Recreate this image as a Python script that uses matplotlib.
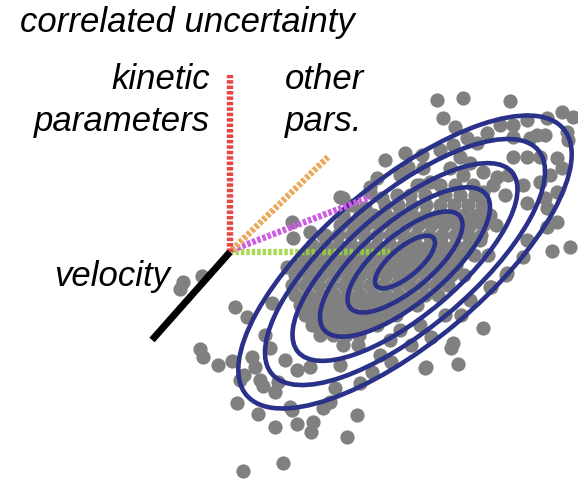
import matplotlib
matplotlib.use("Agg")
import matplotlib.pyplot as plt
from matplotlib.patches import Ellipse

# scattered samples (pixel positions)
outer_x = [183, 180, 202, 235, 247, 200, 203, 218, 232, 252, 255, 244, 240, 260, 263, 278, 275, 237, 258, 275,
           243, 283, 272, 265, 270, 285, 290, 297, 310, 340, 372, 335, 360, 425, 292, 323, 330, 297, 313, 311,
           357, 347, 483, 451, 453, 458, 426, 491, 506, 461, 431, 411, 390, 391, 380, 552, 570, 527, 523, 507,
           490, 547,
           437, 463, 510, 443, 455, 562, 573, 547, 500, 513, 527, 537, 545, 530, 567, 568, 487, 513, 467, 477,
           440, 453, 513, 527, 540, 557, 562, 550, 540, 557, 545, 523, 508, 497, 483, 470, 460, 450, 493, 505,
           483, 527, 547, 557, 463, 473, 385, 405, 422, 408, 377, 343, 352, 370, 382, 397, 400, 417, 423, 430,
           292, 343, 365, 340, 370, 293, 310, 323, 287,
           480, 488, 470, 445, 420, 400]
outer_y = [282, 289, 276, 307, 317, 349, 357, 365, 361, 357, 367, 375, 380, 380, 386, 382, 392, 403, 414, 427,
           471, 463, 303, 335, 348, 360, 407, 370, 367, 365, 372, 388, 383, 368, 410, 408, 402, 424, 422, 432,
           415, 437, 328, 348, 343, 364, 367, 287, 275, 315, 337, 345, 340, 362, 355, 251, 247, 240, 257, 273,
           287, 227,
           100, 98, 101, 118, 127, 112, 117, 118, 125, 125, 120, 135, 135, 138, 132, 140, 133, 137, 138, 143,
           150, 145, 157, 157, 157, 158, 168, 175, 182, 192, 198, 185, 175, 177, 172, 163, 157, 168, 185, 195,
           192, 203, 208, 222, 175, 185, 160, 153, 155, 167, 178, 198, 205, 192, 198, 195, 175, 185, 168, 182,
           222, 215, 208, 197, 187, 238, 232, 235, 267,
           240, 255, 300, 315, 325, 330]

# dense core, row by row
core_rows = {
    185: [420, 440, 455],
    195: [410, 425, 445, 460, 475],
    205: [385, 398, 412, 426, 440, 454, 468, 482],
    215: [360, 373, 386, 399, 412, 425, 438, 451, 464, 477, 490],
    225: [340, 353, 366, 379, 392, 405, 418, 431, 444, 457, 470, 483, 496],
    235: [325, 338, 351, 364, 377, 390, 403, 416, 429, 442, 455, 468, 481],
    245: [312, 325, 338, 351, 364, 377, 390, 403, 416, 429, 442, 455, 468],
    255: [305, 318, 331, 344, 357, 370, 383, 396, 409, 422, 435, 448, 461, 474],
    265: [300, 313, 326, 339, 352, 365, 378, 391, 404, 417, 430, 443, 456],
    275: [295, 308, 321, 334, 347, 360, 373, 386, 399, 412, 425, 438, 451, 464],
    285: [292, 305, 318, 331, 344, 357, 370, 383, 396, 409, 422, 435, 448],
    295: [295, 308, 321, 334, 347, 360, 373, 386, 399, 412, 425, 438],
    305: [300, 313, 326, 339, 352, 365, 378, 391, 404, 417],
    315: [305, 318, 331, 344, 357, 370, 383, 396],
    325: [312, 325, 338, 351, 364, 377],
    335: [320, 333, 346, 359],
    345: [343, 358],
}

# contour ellipses: centre, semi axes, tilt, relative sizes
ell_center = (405, 262)
ell_a = 207
ell_b = 80
ell_angle = -40
ell_scales = [0.18, 0.345, 0.51, 0.675, 0.84, 1.0]

origin = (230, 252)

xs = list(outer_x)
ys = list(outer_y)
for y, row in core_rows.items():
    xs += row
    ys += [y] * len(row)

fig = plt.figure(figsize=(5.78, 4.8), dpi=100)
ax = fig.add_axes([0, 0, 1, 1])
ax.set_xlim(0, 578)
ax.set_ylim(480, 0)
ax.axis("off")

ax.scatter(xs, ys, s=105, c="#808080", linewidths=0, zorder=1)

for s in ell_scales:
    ax.add_patch(Ellipse(ell_center, 2 * ell_a * s, 2 * ell_b * s, angle=ell_angle,
                         fill=False, ec="#2a3188", lw=3.3, zorder=3))

dots = (0, (0.55, 0.3))
ax.plot([origin[0], 390], [origin[1], origin[1]], color="#9bd43a", lw=4.6, ls=dots, alpha=0.85,
        solid_capstyle="butt", zorder=2)
ax.plot([origin[0] + 2, 370], [origin[1] - 2, 197], color="#cf5ae6", lw=4.6, ls=dots, zorder=4)
ax.plot([origin[0] + 2, 328], [origin[1] - 2, 157], color="#eaa95c", lw=4.6, ls=dots, zorder=4)
ax.plot([origin[0], origin[0]], [origin[1], 75], color="#e84545", lw=4.6, ls=dots, zorder=4)
ax.plot([origin[0], 152], [origin[1], 340], color="black", lw=5, solid_capstyle="butt", zorder=4)

font = dict(family="Liberation Sans", style="italic", size=25)
ax.text(20, 32, "correlated uncertainty", ha="left", va="baseline", **font)
ax.text(210, 89, "kinetic", ha="right", va="baseline", **font)
ax.text(210, 131, "parameters", ha="right", va="baseline", **font)
ax.text(285, 89, "other", ha="left", va="baseline", **font)
ax.text(285, 131, "pars.", ha="left", va="baseline", **font)
ax.text(170, 286, "velocity", ha="right", va="baseline", **font)

fig.savefig("out.png", dpi=100)
